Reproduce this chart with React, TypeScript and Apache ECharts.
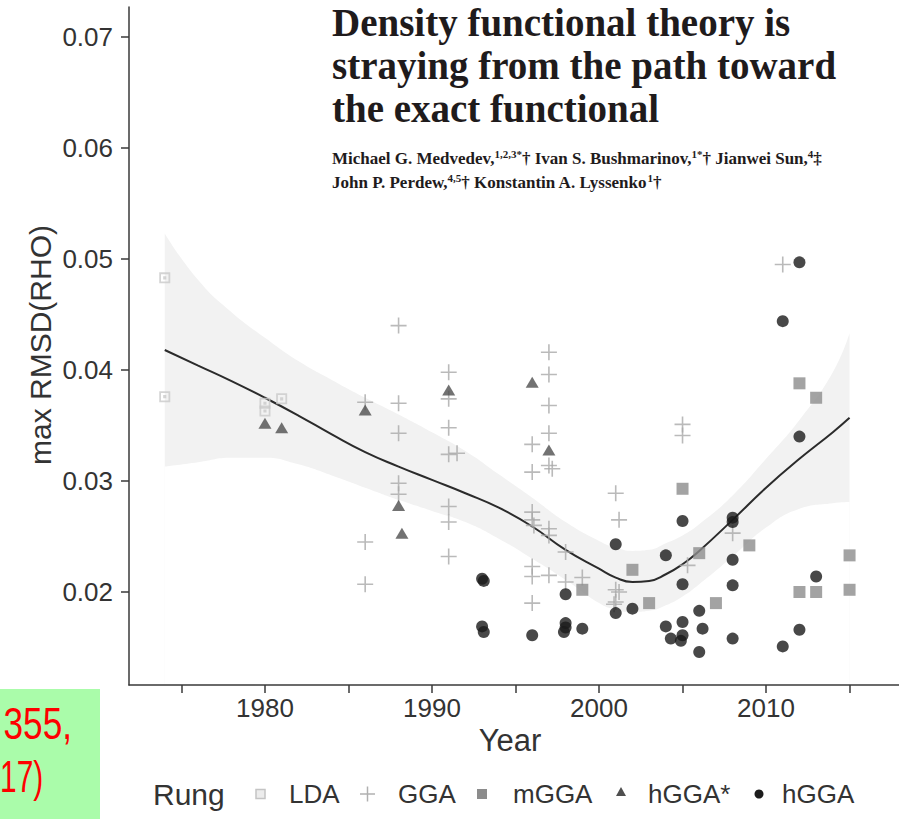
import { useEffect, useRef } from "react";
import * as echarts from "echarts";

// Axis ticks and labels
const yTickValues = [0.02, 0.03, 0.04, 0.05, 0.06, 0.07];
const xTickValues = [1975, 1980, 1985, 1990, 1995, 2000, 2005, 2010, 2015];
const xLabelValues = [1980, 1990, 2000, 2010];

// Points per rung: [year, max RMSD(RHO)]
const ldaPoints = [
  [1974, 0.0483], [1974, 0.0376], [1980, 0.037], [1980, 0.0363], [1981, 0.0374],
];
const ggaPoints = [
  [1986, 0.0371], [1986, 0.0245], [1986, 0.0207],
  [1988, 0.044], [1988, 0.037], [1988, 0.0343], [1988, 0.0298], [1988, 0.0288],
  [1991, 0.0398], [1991, 0.0374], [1991, 0.0348], [1991, 0.0324], [1991.5, 0.0325],
  [1991, 0.0277], [1991, 0.0263], [1991, 0.0232],
  [1996, 0.0333], [1996, 0.0308], [1996, 0.0272], [1996, 0.0265], [1996.1, 0.026],
  [1996, 0.0223], [1996, 0.0214], [1996, 0.019],
  [1997, 0.0416], [1997, 0.0396], [1997, 0.0368], [1997, 0.0343], [1997, 0.0314],
  [1997.2, 0.0311], [1997, 0.0257], [1997, 0.0251], [1997, 0.0215],
  [1998, 0.0236], [1998, 0.0209], [1999, 0.0213],
  [2001, 0.0289], [2001.2, 0.0265], [2001, 0.0202], [2001.2, 0.02], [2001, 0.0191], [2000.9, 0.0189],
  [2005, 0.0351], [2005, 0.0341], [2005.3, 0.0224], [2008, 0.0253], [2011, 0.0495],
];
const mggaPoints = [
  [1999, 0.0202], [2002, 0.022], [2003, 0.019], [2005, 0.0293], [2006, 0.0235],
  [2007, 0.019], [2009, 0.0242], [2012, 0.0388], [2012, 0.02], [2013, 0.0375],
  [2013, 0.02], [2015, 0.0233], [2015, 0.0202],
];
const hggaStarPoints = [
  [1980, 0.0352], [1981, 0.0348], [1986, 0.0364], [1988, 0.0278], [1988.2, 0.0253],
  [1991, 0.0382], [1996, 0.0389], [1997, 0.0328],
];
const hggaPoints = [
  [1993, 0.0212], [1993.1, 0.021], [1993, 0.0169], [1993.1, 0.0164],
  [1996, 0.0161],
  [1998, 0.0198], [1998, 0.0172], [1998, 0.0168], [1997.9, 0.0164], [1999, 0.0167],
  [2001, 0.0243], [2001, 0.0181], [2002, 0.0185],
  [2004, 0.0233], [2004, 0.0169], [2004.3, 0.0158],
  [2005, 0.0264], [2005, 0.0207], [2005, 0.0173], [2005, 0.0161], [2004.9, 0.0156],
  [2006, 0.0183], [2006, 0.0146], [2006.2, 0.0167],
  [2008, 0.0267], [2008, 0.0263], [2008, 0.0229], [2008, 0.0206], [2008, 0.0158],
  [2011, 0.0444], [2011, 0.0151], [2012, 0.0497], [2012, 0.034], [2012, 0.0166],
  [2013, 0.0214],
];

// Smoothed trend with its confidence band
const fitYears = [1974, 1976, 1978, 1980, 1982, 1984, 1986, 1988, 1990, 1992, 1994, 1996, 1998,
  2000, 2001, 2002, 2003, 2004, 2005, 2006, 2008, 2010, 2012, 2014, 2015];
const fitValues = [0.0418, 0.0404, 0.039, 0.0375, 0.0359, 0.0342, 0.0326, 0.0313, 0.0301, 0.0289,
  0.0276, 0.0259, 0.0238, 0.0221, 0.0213, 0.0209, 0.021, 0.0216, 0.0225, 0.0237, 0.0265, 0.0294,
  0.032, 0.0344, 0.0357];
const bandUpper = [0.0523, 0.0481, 0.0452, 0.0429, 0.0408, 0.0391, 0.0375, 0.036, 0.0344, 0.0327,
  0.0306, 0.0285, 0.0263, 0.0246, 0.024, 0.0237, 0.0238, 0.0244, 0.0251, 0.0261, 0.0287, 0.032,
  0.0355, 0.0398, 0.0433];
const bandLower = [0.0313, 0.0317, 0.0321, 0.0321, 0.0315, 0.0305, 0.0294, 0.0283, 0.0273, 0.0263,
  0.0248, 0.023, 0.0211, 0.019, 0.0184, 0.0182, 0.0183, 0.0188, 0.0196, 0.0207, 0.0232, 0.0258,
  0.0275, 0.028, 0.0281];

const titleLines = [
  "Density functional theory is",
  "straying from the path toward",
  "the exact functional",
];
const authorLines = [
  "Michael G. Medvedev,{s|1,2,3*}† Ivan S. Bushmarinov,{s|1*}† Jianwei Sun,{s|4}‡",
  "John P. Perdew,{s|4,5}† Konstantin A. Lyssenko{s|1}†",
];
const legendEntries = ["LDA", "GGA", "mGGA", "hGGA*", "hGGA"];

const SANS = '"Liberation Sans", Arial, sans-serif';
const SERIF = '"Liberation Serif", "Times New Roman", serif';
const INK = "#333333";

// plus sign, and a boxed square with a hole and a centre dot
const plusPath = "path://M45,0H55V45H100V55H55V100H45V55H0V45H45Z";
const boxedPath = "path://M0,0H100V100H0Z M16,16V84H84V16Z M36,36H64V64H36Z";

function pairs(xs: number[], ys: number[]) {
  return xs.map((x, i) => [x, ys[i]]);
}

function legendGraphic() {
  const cy = 794;
  const items: any[] = [
    {
      type: "text", x: 153, y: cy,
      style: { text: "Rung", fontFamily: SANS, fontSize: 30, fill: INK, align: "left", verticalAlign: "middle" },
    },
    { type: "rect", shape: { x: 256, y: cy - 4.5, width: 9, height: 9 }, style: { fill: "#ececec", stroke: "#c4c4c4", lineWidth: 1.5 } },
    { type: "line", shape: { x1: 360, y1: cy, x2: 375, y2: cy }, style: { stroke: "#b0b0b0", lineWidth: 1.5 } },
    { type: "line", shape: { x1: 367.5, y1: cy - 7.5, x2: 367.5, y2: cy + 7.5 }, style: { stroke: "#b0b0b0", lineWidth: 1.5 } },
    { type: "rect", shape: { x: 477, y: cy - 5, width: 10, height: 10 }, style: { fill: "#8c8c8c" } },
    { type: "polygon", shape: { points: [[621, cy - 7], [626, cy + 2], [616, cy + 2]] }, style: { fill: "#4f4f4f" } },
    { type: "circle", shape: { cx: 759, cy, r: 4.5 }, style: { fill: "#1c1c1c" } },
  ];
  const textX = [289, 398, 513, 648, 782];
  legendEntries.forEach((name, i) => {
    items.push({
      type: "text", x: textX[i], y: cy,
      style: { text: name, fontFamily: SANS, fontSize: 26, fill: INK, align: "left", verticalAlign: "middle" },
    });
  });
  return items;
}

function headerGraphic() {
  const items: any[] = titleLines.map((t, i) => ({
    type: "text", x: 332, y: 22 + i * 43,
    style: {
      text: t, fontFamily: SERIF, fontWeight: "bold", fontSize: 39, lineHeight: 34,
      fill: "#1f1b1c", align: "left", verticalAlign: "middle",
    },
  }));
  authorLines.forEach((t, i) => {
    items.push({
      type: "text", x: 332, y: 158 + i * 24,
      style: {
        text: t, fontFamily: SERIF, fontWeight: "bold", fontSize: 17, lineHeight: 20,
        fill: "#1f1b1c", align: "left", verticalAlign: "middle",
        rich: { s: { fontFamily: SERIF, fontWeight: "bold", fontSize: 11, lineHeight: 12, verticalAlign: "top", fill: "#1f1b1c" } },
      },
    });
  });
  return items;
}

function sideGraphic() {
  return [
    { type: "rect", shape: { x: 0, y: 689, width: 100, height: 130 }, style: { fill: "#aafcaa" } },
    {
      type: "text", x: 72, y: 724, scaleX: 0.8,
      style: { text: "355,", fontFamily: SANS, fontSize: 44, fill: "#ff0000", align: "right", verticalAlign: "middle" },
    },
    {
      type: "text", x: 0, y: 777, scaleX: 0.68,
      style: { text: "17)", fontFamily: SANS, fontSize: 44, fill: "#ff0000", align: "left", verticalAlign: "middle" },
    },
    {
      type: "text", x: 40, y: 345, rotation: Math.PI / 2,
      style: { text: "max RMSD(RHO)", fontFamily: SANS, fontSize: 30, fill: INK, align: "center", verticalAlign: "middle" },
    },
    {
      type: "text", x: 510, y: 740,
      style: { text: "Year", fontFamily: SANS, fontSize: 31, fill: INK, align: "center", verticalAlign: "middle" },
    },
  ];
}

export default function App() {
  const ref = useRef<HTMLDivElement>(null);

  useEffect(() => {
    document.body.style.margin = "0";
    if (!ref.current) return;
    const chart = echarts.init(ref.current, undefined, { renderer: "svg" });

    const axisLine = { show: true, lineStyle: { color: "#3a3a3a", width: 1.5 } };
    const option: any = {
      animation: false,
      backgroundColor: "#ffffff",
      grid: { left: 129, right: 0, top: 7, bottom: 134, outerBoundsMode: "none" },
      xAxis: {
        type: "value",
        min: 1971.86,
        max: 2017.96,
        z: 5,
        axisLine,
        axisTick: { show: true, length: 8, customValues: xTickValues, lineStyle: { color: "#3a3a3a", width: 1.5 } },
        axisLabel: {
          customValues: xLabelValues, margin: 10, fontFamily: SANS, fontSize: 26, color: INK,
          formatter: (v: number) => String(v),
        },
        splitLine: { show: false },
      },
      yAxis: {
        type: "value",
        min: 0.011622,
        max: 0.072703,
        z: 5,
        axisLine,
        axisTick: { show: true, length: 8, customValues: yTickValues, lineStyle: { color: "#3a3a3a", width: 1.5 } },
        axisLabel: {
          customValues: yTickValues, margin: 16, fontFamily: SANS, fontSize: 26, color: INK,
          formatter: (v: number) => v.toFixed(2),
        },
        splitLine: { show: false },
      },
      series: [
        {
          // band: grey from the upper bound down, then white from the lower bound down
          type: "line", data: pairs(fitYears, bandUpper), smooth: true, symbol: "none", silent: true,
          lineStyle: { width: 0, opacity: 0 }, areaStyle: { color: "#f2f2f2", opacity: 1, origin: "start" }, z: 1,
        },
        {
          type: "line", data: pairs(fitYears, bandLower), smooth: true, symbol: "none", silent: true,
          lineStyle: { width: 0, opacity: 0 }, areaStyle: { color: "#ffffff", opacity: 1, origin: "start" }, z: 1,
        },
        {
          type: "line", data: pairs(fitYears, fitValues), smooth: true, symbol: "none", silent: true,
          lineStyle: { color: "#2b2b2b", width: 2 }, z: 2,
        },
        {
          name: "LDA", type: "scatter", data: ldaPoints, symbol: boxedPath, symbolSize: 11,
          itemStyle: { color: "#c9c9c9" }, z: 3,
        },
        {
          name: "GGA", type: "scatter", data: ggaPoints, symbol: plusPath, symbolSize: 16,
          itemStyle: { color: "#a9a9a9" }, z: 3,
        },
        {
          name: "mGGA", type: "scatter", data: mggaPoints, symbol: "rect", symbolSize: 12,
          itemStyle: { color: "#8c8c8c" }, z: 3,
        },
        {
          name: "hGGA*", type: "scatter", data: hggaStarPoints, symbol: "triangle", symbolSize: [13, 11],
          itemStyle: { color: "#4f4f4f" }, z: 3,
        },
        {
          name: "hGGA", type: "scatter", data: hggaPoints, symbol: "circle", symbolSize: 12,
          itemStyle: { color: "#1a1a1a" }, z: 3,
        },
      ],
      graphic: [...headerGraphic(), ...sideGraphic(), ...legendGraphic()],
    };
    chart.setOption(option);
    return () => chart.dispose();
  }, []);

  return (
    <div
      ref={ref}
      style={{ position: "fixed", left: 0, top: 0, width: 899, height: 819, background: "#fff" }}
    />
  );
}
